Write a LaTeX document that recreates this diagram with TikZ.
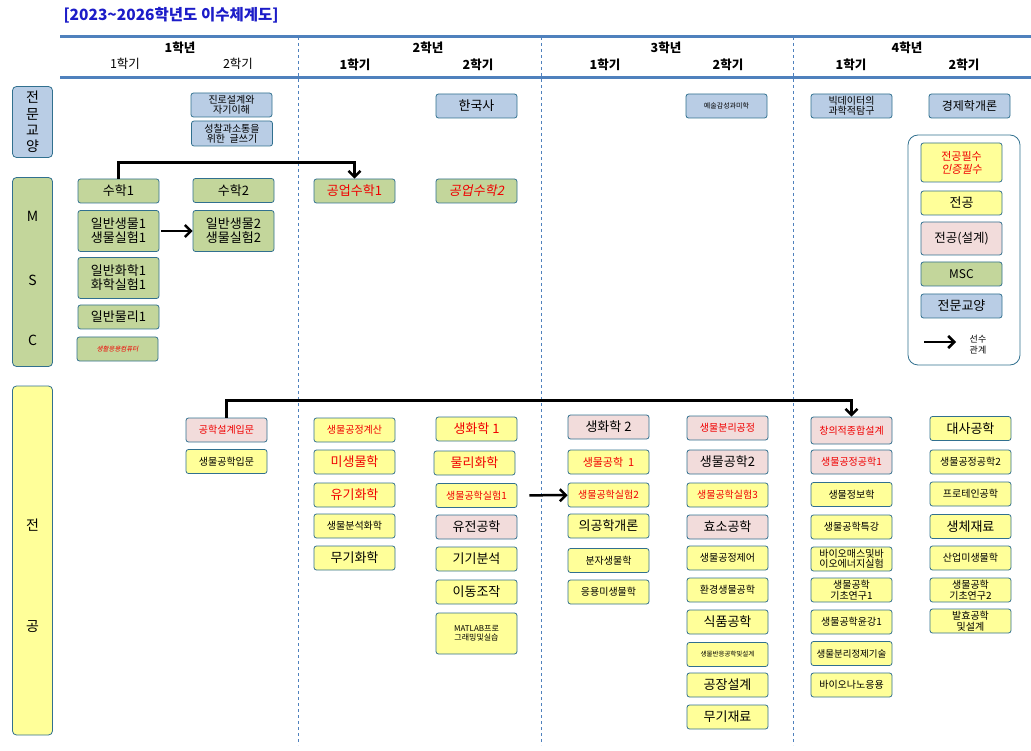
\documentclass[tikz,border=0pt]{standalone}
\usepackage{fontspec}
\setmainfont{Noto Sans CJK KR}
\newfontfamily\slantfont{Noto Sans CJK KR}[FakeSlant=0.2]
\usetikzlibrary{arrows.meta}

\definecolor{edge}{RGB}{49,112,143}
\definecolor{genfill}{RGB}{185,205,229}
\definecolor{mscfill}{RGB}{195,214,155}
\definecolor{majfill}{RGB}{255,255,153}
\definecolor{desfill}{RGB}{242,220,219}
\definecolor{reqred}{RGB}{240,0,0}
\definecolor{headblue}{RGB}{79,129,189}
\definecolor{titleblue}{RGB}{28,28,200}

\tikzset{
  box/.style={draw=edge, line width=0.8pt, rounded corners=2.5pt, minimum width=81pt,
    minimum height=24pt, inner sep=1pt, align=center, font=\fontsize{13}{14}\selectfont},
  gen/.style={box, fill=genfill},
  msc/.style={box, fill=mscfill},
  maj/.style={box, fill=majfill},
  des/.style={box, fill=desfill},
  catbox/.style={box, minimum width=40pt, rounded corners=4pt},
  req/.style={text=reqred},
  sm/.style={font=\fontsize{10}{10.5}\selectfont},
  xs/.style={font=\fontsize{8}{9}\selectfont},
  xxs/.style={font=\fontsize{7}{8}\selectfont},
  yearlbl/.style={font=\bfseries\fontsize{12.5}{14}\selectfont},
  semlbl/.style={font=\fontsize{12.5}{14}\selectfont},
  prereq/.style={line width=2.5pt, -{Straight Barb[length=6pt,width=12pt]}},
}

\begin{document}
\begin{tikzpicture}[x=1pt,y=-1pt]
\useasboundingbox (0,0) rectangle (1031,751);

% title and header
\node[anchor=west, text=titleblue, font=\bfseries\fontsize{15.5}{17}\selectfont] (title) at (60,15) {[2023\textasciitilde 2026학년도 이수체계도]};
\draw[headblue, line width=3pt] (60,37) -- (1031,37);
\draw[headblue, line width=3pt] (60,78) -- (1031,78);
\draw[headblue, dashed] (298,37) -- (298,745);
\draw[headblue, dashed] (541,37) -- (541,745);
\draw[headblue, dashed] (793,37) -- (793,745);

\node[yearlbl] (y1) at (180,48) {1학년};
\node[semlbl] (y1s1) at (125,64) {1학기};
\node[semlbl] (y1s2) at (238,64) {2학기};
\node[yearlbl] (y2) at (428,48) {2학년};
\node[yearlbl] (y2s1) at (355,65) {1학기};
\node[yearlbl] (y2s2) at (478,65) {2학기};
\node[yearlbl] (y3) at (666,48) {3학년};
\node[yearlbl] (y3s1) at (605,65) {1학기};
\node[yearlbl] (y3s2) at (728,65) {2학기};
\node[yearlbl] (y4) at (907,48) {4학년};
\node[yearlbl] (y4s1) at (851,65) {1학기};
\node[yearlbl] (y4s2) at (964,65) {2학기};

% categories
\node[catbox, fill=genfill, minimum height=71pt, font=\fontsize{14}{16.3}\selectfont] (catgen) at (32.5,122) {전\\문\\교\\양};
\node[catbox, fill=mscfill, minimum height=189pt] (catmsc) at (32.5,272) {};
\node[font=\fontsize{14}{15}\selectfont] (catm) at (32.5,216) {M};
\node[font=\fontsize{14}{15}\selectfont] (cats) at (32.5,280) {S};
\node[font=\fontsize{14}{15}\selectfont] (catc) at (32.5,340) {C};
\node[catbox, fill=majfill, minimum height=349pt] (catmaj) at (32.5,560.5) {};
\node[font=\fontsize{14}{15}\selectfont] (catj) at (32.5,525) {전};
\node[font=\fontsize{14}{15}\selectfont] (catg) at (32.5,627) {공};

% general education
\node[gen, sm] (career) at (231.5,105) {진로설계와\\자기이해};
\node[gen, sm, minimum height=25pt] (writing) at (232,133.5) {성찰과소통을\\위한\ \ 글쓰기};
\node[gen] (hist) at (476.5,106) {한국사};
\node[gen, xxs] (art) at (726.5,106) {예술감성과미학};
\node[gen, sm] (bigdata) at (851.5,106) {빅데이터의\\과학적탐구};
\node[gen, font=\fontsize{12}{13}\selectfont] (econ) at (969.5,106) {경제학개론};

% MSC
\node[msc] (math1) at (118.5,191) {수학1};
\node[msc] (math2) at (233.5,190.5) {수학2};
\node[msc, req] (emath1) at (354.5,191) {공업수학1};
\node[msc, req, font=\slantfont\fontsize{13}{14}\selectfont] (emath2) at (476.5,191) {공업수학2};
\node[msc, minimum height=41pt] (gbio1) at (118.5,231) {일반생물1\\생물실험1};
\node[msc, minimum height=41pt] (gbio2) at (233.5,231) {일반생물2\\생물실험2};
\node[msc, minimum height=41pt] (gchem1) at (118.5,278) {일반화학1\\화학실험1};
\node[msc] (gphys1) at (118.5,317) {일반물리1};
\node[msc, req, font=\slantfont\fontsize{6.5}{7.5}\selectfont] (comp) at (117.5,349) {생활응용컴퓨터};

\draw[prereq] (math1.north) -- ++(0,-16) -| (emath1.north);
\draw[prereq, shorten <=2pt] (gbio1) -- (gbio2);

% legend
\node[draw=edge, line width=0.8pt, rounded corners=10pt, minimum width=112pt, minimum height=230pt] (legend) at (964,250) {};
\node[maj, req, minimum height=39pt, font=\fontsize{11}{13}\selectfont] (lgreq) at (961.5,162.5) {전공필수\\{\slantfont 인증필수}};
\node[maj] (lgmaj) at (961.5,203) {전공};
\node[des, minimum height=33pt, font=\fontsize{12.5}{14}\selectfont] (lgdes) at (961.5,238.5) {전공(설계)};
\node[msc, font=\fontsize{12}{13}\selectfont] (lgmsc) at (961.5,274) {MSC};
\node[gen] (lggen) at (961.5,306) {전문교양};
\coordinate (lgfrom) at (924,342);
\coordinate (lgto) at (956,342);
\draw[prereq] (lgfrom) -- (lgto);
\node[align=center, font=\fontsize{9}{11}\selectfont] (lgtxt) at (978,345) {선수\\관계};

% major, year 1
\node[des, sm, req] (design) at (226.5,430) {공학설계입문};
\node[maj, sm] (bioint) at (226.5,461.5) {생물공학입문};

% major, year 2
\node[maj, sm, req] (bpcalc) at (354.5,430) {생물공정계산};
\node[maj, req] (micro) at (354.5,462) {미생물학};
\node[maj, req] (orgchem) at (354.5,495) {유기화학};
\node[maj, sm] (anachem) at (354.5,526) {생물분석화학};
\node[maj] (inorg) at (354.5,558) {무기화학};
\node[maj, req] (biochem1) at (476.5,429) {생화학 1};
\node[maj, req] (physchem) at (474.5,463) {물리화학};
\node[maj, sm, req] (lab1) at (476.5,495.5) {생물공학실험1};
\node[des] (genetic) at (476.5,527) {유전공학};
\node[maj] (instr) at (476.5,559) {기기분석};
\node[maj] (transfer) at (476.5,592) {이동조작};
\node[maj, xs, minimum height=41pt] (matlab) at (476.5,633.5) {MATLAB프로\\그래밍및실습};

% major, year 3
\node[des] (biochem2) at (608.5,427) {생화학 2};
\node[maj, req, font=\fontsize{11}{12}\selectfont] (bioeng1) at (608.5,462) {생물공학\ \ 1};
\node[maj, sm, req] (lab2) at (608.5,495) {생물공학실험2};
\node[maj] (medeng) at (608.5,526) {의공학개론};
\node[maj, sm] (molbio) at (608.5,560.5) {분자생물학};
\node[maj, sm] (appmicro) at (608.5,592) {응용미생물학};
\node[des, sm, req] (biosep) at (727.5,428) {생물분리공정};
\node[des] (bioeng2) at (727.5,462) {생물공학2};
\node[maj, sm, req] (lab3) at (727.5,495) {생물공학실험3};
\node[des] (enzyme) at (727.5,527) {효소공학};
\node[maj, sm] (bpctrl) at (727.5,558) {생물공정제어};
\node[maj, sm] (envbio) at (727.5,590) {환경생물공학};
\node[maj] (food) at (727.5,622) {식품공학};
\node[maj, font=\fontsize{6.5}{7.5}\selectfont] (reactor) at (727.5,654.5) {생물반응공학및설계};
\node[maj] (plant) at (727.5,685) {공장설계};
\node[maj] (inmat) at (727.5,717) {무기재료};

\draw[prereq, shorten <=12pt] (lab1) -- (lab2);

% major, year 4
\node[des, sm, req, minimum height=27pt] (capstone) at (851.5,430.5) {창의적종합설계};
\node[des, sm, req] (bpe1) at (851.5,462) {생물공정공학1};
\node[maj, sm] (bioinfo) at (851.5,494.5) {생물정보학};
\node[maj, sm] (special) at (851.5,527) {생물공학특강};
\node[maj, sm] (biomass) at (851.5,559) {바이오매스및바\\이오에너지실험};
\node[maj, sm] (basic1) at (851.5,590) {생물공학\\기초연구1};
\node[maj, sm] (seminar) at (851.5,622) {생물공학윤강1};
\node[maj, font=\fontsize{9.5}{10}\selectfont] (purify) at (851.5,653.5) {생물분리정제기술};
\node[maj, sm] (nano) at (851.5,685) {바이오나노응용};
\node[maj] (metab) at (970.5,428.5) {대사공학};
\node[maj, sm] (bpe2) at (970.5,462) {생물공정공학2};
\node[maj, sm] (protein) at (970.5,494) {프로테인공학};
\node[maj] (biomat) at (970.5,526.5) {생체재료};
\node[maj, sm] (indmicro) at (970.5,558) {산업미생물학};
\node[maj, sm] (basic2) at (970.5,590) {생물공학\\기초연구2};
\node[maj, sm] (ferment) at (970.5,621) {발효공학\\및설계};

\draw[prereq] (design.north) -- ++(0,-17) -| (capstone.north);
\end{tikzpicture}
\end{document}
